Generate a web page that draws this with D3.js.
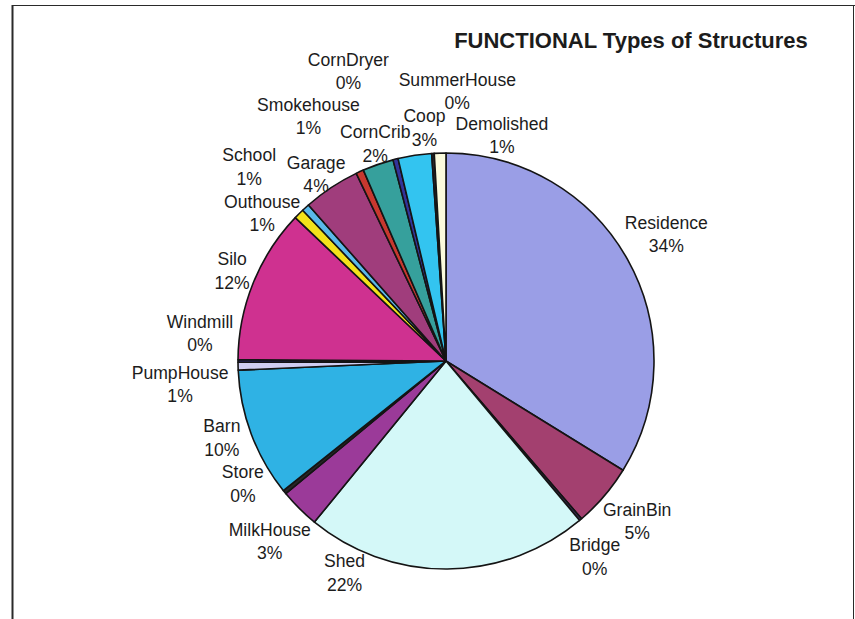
<!DOCTYPE html>
<html>
<head>
<meta charset="utf-8">
<script src="https://cdn.jsdelivr.net/npm/d3@7"></script>
<style>
    body { margin: 0; background: #fff; }
    .chart text { font-family: 'Liberation Sans', Arial, sans-serif; fill: #1c1c1c; }
    .title { font-weight: bold; font-size: 22px; }
    .label { font-size: 17.6px; }
    .slice { stroke: #141414; stroke-width: 1.6; stroke-linejoin: round; }
    .frame { stroke: #2a2a2a; fill: none; }
</style>
</head>
<body>
<svg class="chart"></svg>
<script>
// Data (percent of structures), clockwise from 12 o'clock
var categories = ['Residence', 'GrainBin', 'Bridge', 'Shed', 'MilkHouse', 'Store', 'Barn', 'PumpHouse',
    'Windmill', 'Silo', 'Outhouse', 'School', 'Garage', 'Smokehouse', 'CornCrib', 'CornDryer', 'Coop',
    'SummerHouse', 'Demolished'];
var values = [33.8, 4.9, 0.2, 22.0, 3.1, 0.3, 10.0, 0.6, 0.2, 12.0, 0.8, 0.6, 4.4, 0.6, 2.4, 0.4, 2.6, 0.2, 0.9];
var sliceColors = ['#9a9ee6', '#a3406f', '#3a2a55', '#d4f8f8', '#9b3a99', '#262626', '#2fb2e4', '#cfcdf2',
    '#22226a', '#cf3190', '#f3e21a', '#5ab8ea', '#a03d7c', '#c8382f', '#36a09c', '#33339a', '#33c4f0',
    '#2a2a2a', '#fbfbdc'];
var title = 'FUNCTIONAL Types of Structures';

// Label nudges (layout only), relative to a point just outside each slice
var labelNudge = {
    Residence: [2, -5], GrainBin: [1, -2], Bridge: [-13, 5], Shed: [-103, -38], MilkHouse: [0, 3],
    Store: [-9, -35], Barn: [10, -11], PumpHouse: [-16, 17], Windmill: [4, -28], Silo: [18, 3],
    Outhouse: [-7, 29], School: [-28, -10], Garage: [8, 22], Smokehouse: [-34, -17], CornCrib: [11, 19],
    CornDryer: [-37, -47], Coop: [16, 14], SummerHouse: [27, -20], Demolished: [63, 24]
};

var width = 855,
    height = 619,
    cx = 446,
    cy = 361,
    radius = 208;

var svg = d3.select('.chart').attr('width', width).attr('height', height);

// frame (only the top and left edges show in the scan)
svg.append('line').attr('class', 'frame').attr('x1', 12).attr('y1', 5.5).attr('x2', width).attr('y2', 5.5).attr('stroke-width', 1.2);
svg.append('line').attr('class', 'frame').attr('x1', 12.5).attr('y1', 5).attr('x2', 12.5).attr('y2', height).attr('stroke-width', 2);
svg.append('line').attr('class', 'frame').attr('x1', 853.5).attr('y1', 5).attr('x2', 853.5).attr('y2', height).attr('stroke', '#d8d8d8');

svg.append('text')
    .attr('class', 'title')
    .attr('x', 631)
    .attr('y', 48)
    .attr('text-anchor', 'middle')
    .text(title);

var data = categories.map(function (c, i) {
    return { name: c, value: values[i], color: sliceColors[i] };
});
var total = d3.sum(values);

var pie = d3.pie().sort(null).value(function (d) { return d.value; });
var arc = d3.arc().innerRadius(0).outerRadius(radius);
var labelArc = d3.arc().innerRadius(250).outerRadius(250);

var g = svg.append('g').attr('transform', 'translate(' + cx + ',' + cy + ')');

g.selectAll('.slice')
    .data(pie(data))
    .enter()
    .append('path')
    .attr('class', 'slice')
    .attr('fill', function (d) { return d.data.color; })
    .attr('d', arc);

// labels: name on first line, rounded percent under it
var labels = g.selectAll('.label')
    .data(pie(data))
    .enter()
    .append('text')
    .attr('class', 'label')
    .attr('text-anchor', 'middle')
    .attr('transform', function (d) {
        var p = labelArc.centroid(d);
        var n = labelNudge[d.data.name] || [0, 0];
        return 'translate(' + (p[0] + n[0]) + ',' + (p[1] + n[1]) + ')';
    });

labels.append('tspan').attr('x', 0).attr('y', -5.5).text(function (d) { return d.data.name; });
labels.append('tspan').attr('x', 0).attr('y', 18).text(function (d) {
    return Math.round(d.data.value / total * 100) + '%';
});
</script>
</body>
</html>
